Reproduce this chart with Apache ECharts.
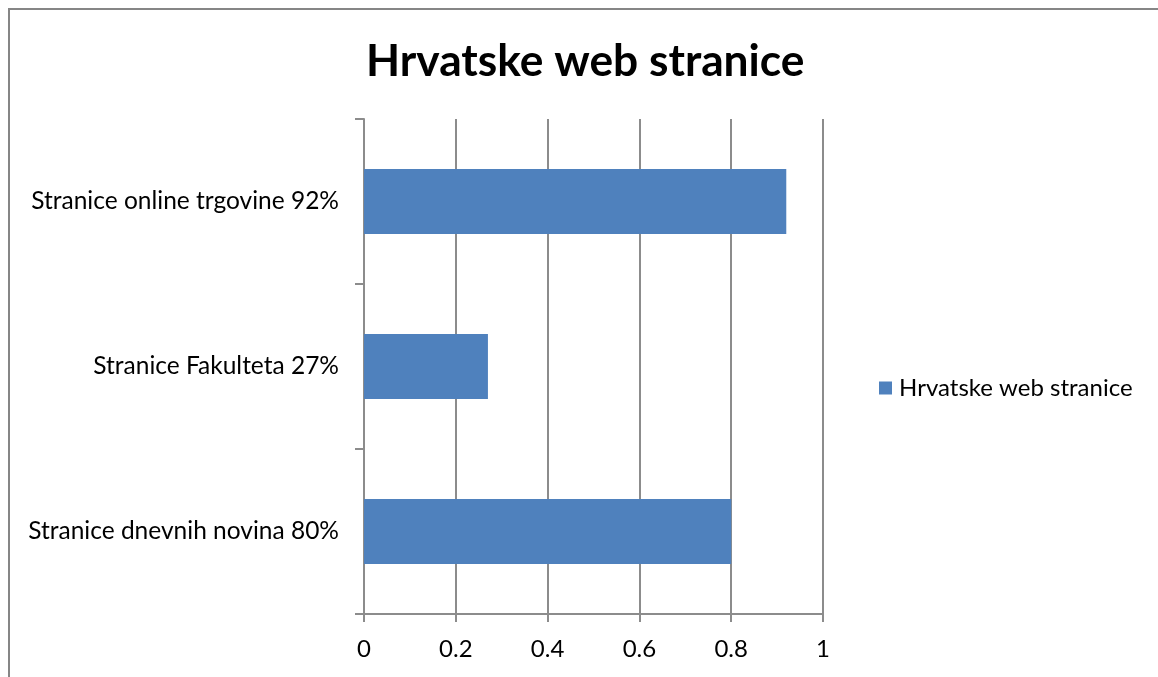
<!DOCTYPE html>
<html>
<head>
<meta charset="utf-8">
<script src="https://cdn.jsdelivr.net/npm/echarts@6/dist/echarts.min.js"></script>
<style>
  html, body { margin: 0; padding: 0; background: #fff; }
  #frame { position: absolute; left: 8px; top: 8px; width: 1200px; height: 720px;
           border-left: 2px solid #868686; border-top: 2px solid #868686; box-sizing: border-box; }
  #chart { position: absolute; left: 0; top: 0; width: 1158px; height: 677px; }
</style>
</head>
<body>
<div id="frame"></div>
<div id="chart"></div>
<script>
// Categories listed bottom to top, as the category axis draws them
const categories = ['Stranice dnevnih novina 80%', 'Stranice Fakulteta 27%', 'Stranice online trgovine 92%'];
const shares = [0.80, 0.27, 0.92];
const seriesName = 'Hrvatske web stranice';
const titleText = 'Hrvatske web stranice';

const FONT = 'Lato, "Open Sans", sans-serif';
const gridGray = '#8c8c8c';

const chart = echarts.init(document.getElementById('chart'), null, { renderer: 'canvas' });
chart.setOption({
  backgroundColor: 'transparent',
  animation: false,
  title: {
    text: titleText,
    left: 361,
    top: 35,
    textStyle: { fontFamily: FONT, fontWeight: 'bold', fontSize: 44.3, color: '#000' }
  },
  legend: {
    data: [seriesName],
    orient: 'vertical',
    left: 874,
    top: 371,
    itemWidth: 13,
    itemHeight: 13,
    icon: 'rect',
    textStyle: { fontFamily: FONT, fontSize: 24, color: '#000', padding: [0, 0, 0, 2] }
  },
  grid: { left: 364, right: 335, top: 119, bottom: 63, containLabel: false },
  xAxis: {
    type: 'value',
    min: 0, max: 1, interval: 0.2,
    axisLine: { show: true, lineStyle: { color: gridGray, width: 2 } },
    axisTick: { show: true, length: 8, lineStyle: { color: gridGray, width: 2 } },
    splitLine: { show: true, lineStyle: { color: gridGray, width: 2 } },
    axisLabel: { fontFamily: FONT, fontSize: 24, color: '#000', margin: 23,
                 formatter: v => String(Math.round(v * 10) / 10) }
  },
  yAxis: {
    type: 'category',
    data: categories,
    boundaryGap: true,
    axisLine: { show: true, lineStyle: { color: gridGray, width: 2 } },
    axisTick: { show: true, length: 9, alignWithLabel: false, lineStyle: { color: gridGray, width: 2 } },
    axisLabel: { fontFamily: FONT, fontSize: 24.5, color: '#000', margin: 25 }
  },
  series: [{
    name: seriesName,
    type: 'bar',
    data: shares,
    barCategoryGap: '60.6%',
    itemStyle: { color: '#4F81BD' }
  }]
});
</script>
</body>
</html>
